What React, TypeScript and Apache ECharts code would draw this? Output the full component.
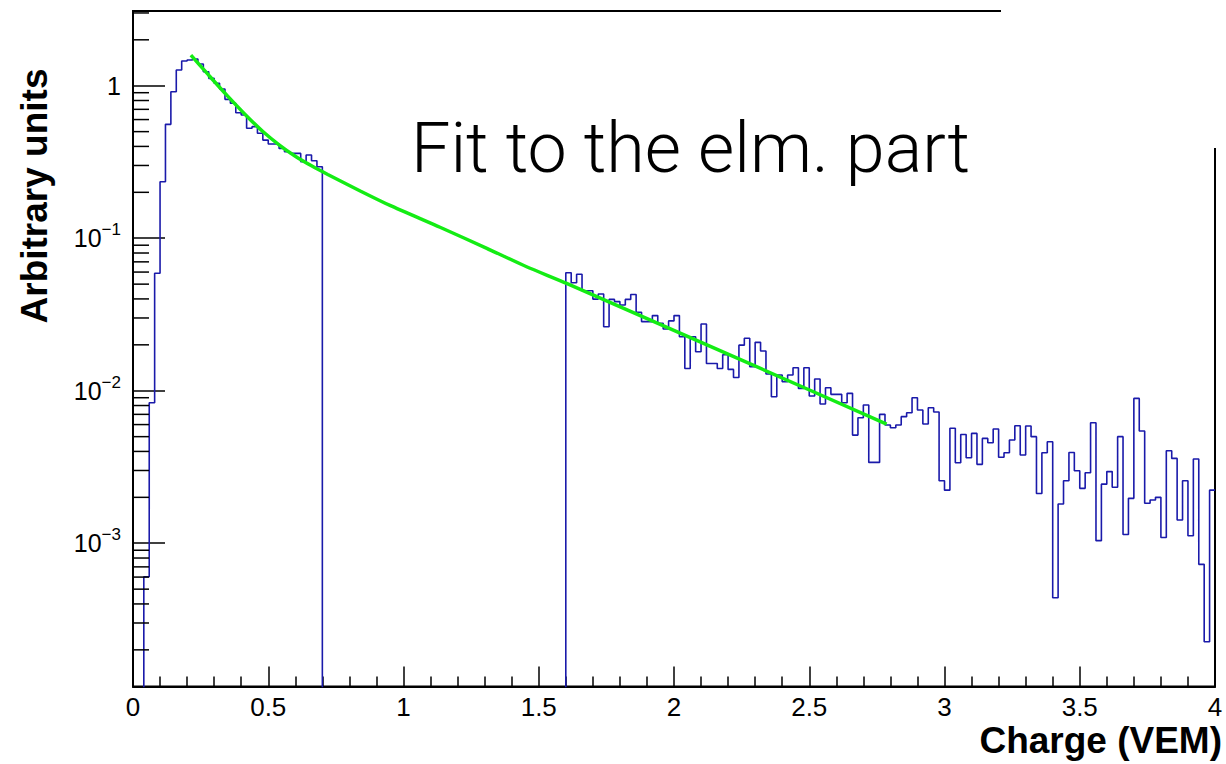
import React, { useEffect, useRef } from 'react';
import * as echarts from 'echarts';

// ---- Data ----
const BIN_WIDTH = 0.02; // VEM, 200 bins from 0 to 4
// histogram contents per bin (null = empty bin)
const histValues: (number | null)[] = [
  null, null, 0.000603, 0.00834, 0.0589, 0.2346, 0.558, 0.914, 1.267, 1.452,
  1.474, 1.496, 1.388, 1.235, 1.118, 1.037, 0.951, 0.814, 0.767, 0.665,
  0.643, 0.526, 0.539, 0.488, 0.440, 0.415, 0.415, 0.388, 0.369, 0.360,
  0.360, 0.317, 0.351, 0.322, 0.294, null, null, null, null, null,
  null, null, null, null, null, null, null, null, null, null,
  null, null, null, null, null, null, null, null, null, null,
  null, null, null, null, null, null, null, null, null, null,
  null, null, null, null, null, null, null, null, null, null,
  0.0594, 0.0511, 0.0580, 0.0453, 0.0453, 0.0399, 0.0431, 0.0263, 0.0397, 0.0384,
  0.0365, 0.0397, 0.0428, 0.0327, 0.0284, 0.0284, 0.0311, 0.0277, 0.0254, 0.0287,
  0.0311, 0.0226, 0.0140, 0.0226, 0.0180, 0.0274, 0.0151, 0.0151, 0.0140, 0.0172,
  0.0138, 0.0122, 0.0199, 0.0221, 0.01437, 0.02076, 0.01821, 0.01287, 0.00914, 0.01268,
  0.01146, 0.01268, 0.01416, 0.01036, 0.01416, 0.00923, 0.01194, 0.00818, 0.01047, 0.00947,
  0.00947, 0.00835, 0.00961, 0.00512, 0.00665, 0.00806, 0.00339, 0.00339, 0.00700, 0.00596,
  0.00572, 0.00596, 0.00676, 0.00718, 0.00900, 0.00747, 0.00605, 0.00774, 0.00725, 0.00257,
  0.00223, 0.00567, 0.00337, 0.00517, 0.00364, 0.00525, 0.00329, 0.00487, 0.00456, 0.00561,
  0.00366, 0.00392, 0.00475, 0.00590, 0.00379, 0.00587, 0.00500, 0.00212, 0.00392, 0.00463,
  0.000439, 0.00181, 0.00257, 0.00394, 0.00299, 0.00229, 0.00290, 0.00617, 0.00104, 0.00244,
  0.00295, 0.00233, 0.00500, 0.00114, 0.00197, 0.00891, 0.00544, 0.00183, 0.00192, 0.00200,
  0.00109, 0.00404, 0.00360, 0.00142, 0.00257, 0.00112, 0.00357, 0.000727, 0.000226, 0.00223,
];

// fit curve
const fitX = [0.214, 0.28, 0.35, 0.42, 0.48, 0.54, 0.60, 0.66, 0.72, 0.84, 0.95, 1.135, 1.308, 1.455, 1.603, 2.244, 2.786];
const fitY = [1.589, 1.172, 0.855, 0.634, 0.501, 0.410, 0.345, 0.2985, 0.262, 0.204, 0.164, 0.118, 0.0859, 0.0650, 0.0506, 0.01606, 0.00605];

const yMinorTicks = [
  2e-4, 3e-4, 4e-4, 5e-4, 6e-4, 7e-4, 8e-4, 9e-4,
  2e-3, 3e-3, 4e-3, 5e-3, 6e-3, 7e-3, 8e-3, 9e-3,
  2e-2, 3e-2, 4e-2, 5e-2, 6e-2, 7e-2, 8e-2, 9e-2,
  0.2, 0.3, 0.4, 0.5, 0.6, 0.7, 0.8, 0.9,
  2, 3,
];

const X_MIN = 0;
const X_MAX = 4;
const Y_MIN = 1.15e-4;
const Y_MAX = 3.09;
const FLOOR = 1e-7;

const TITLE_TEXT = 'Fit to the elm. part';
const X_NAME = 'Charge (VEM)';
const Y_NAME = 'Arbitrary units';

const FONT = "'Liberation Sans', Arial, Helvetica, sans-serif";

export default function App() {
  const ref = useRef<HTMLDivElement>(null);

  useEffect(() => {
    if (!ref.current) return;
    const chart = echarts.init(ref.current, null, { renderer: 'svg' });

    const histData: [number, number][] = histValues.map((v, i) => [
      +(i * BIN_WIDTH).toFixed(4),
      v == null ? FLOOR : v,
    ]);
    const last = histValues[histValues.length - 1];
    histData.push([+(histValues.length * BIN_WIDTH).toFixed(4), last == null ? FLOOR : last]);

    const fitData = fitX.map((x, i) => [x, fitY[i]]);

    const option: any = {
      animation: false,
      backgroundColor: '#fff',
      grid: {
        left: 133,
        right: 11,
        top: 11,
        bottom: 77.5,
        show: true,
        borderColor: '#000',
        borderWidth: 2,
        backgroundColor: 'transparent',
      },
      xAxis: {
        type: 'value',
        min: X_MIN,
        max: X_MAX,
        interval: 0.5,
        axisLine: { show: true, onZero: false, lineStyle: { color: '#000', width: 2 } },
        axisTick: { show: true, inside: true, length: 20, lineStyle: { color: '#000', width: 1.5 } },
        minorTick: { show: true, splitNumber: 5, length: 10, lineStyle: { color: '#000', width: 1.5 } },
        splitLine: { show: false },
        minorSplitLine: { show: false },
        axisLabel: {
          color: '#000',
          fontSize: 26,
          fontFamily: FONT,
          margin: 7,
          formatter: (v: number) => String(v),
        },
      },
      yAxis: {
        type: 'log',
        logBase: 10,
        min: Y_MIN,
        max: Y_MAX,
        axisLine: { show: true, lineStyle: { color: '#000', width: 2 } },
        axisTick: { show: true, inside: true, length: 32, lineStyle: { color: '#000', width: 1.5 } },
        splitLine: { show: false },
        axisLabel: {
          color: '#000',
          fontSize: 25,
          fontFamily: FONT,
          margin: 12,
          lineHeight: 34,
          showMinLabel: false,
          showMaxLabel: false,
          formatter: (v: number) => {
            const l = Math.log10(v);
            const r = Math.round(l);
            if (Math.abs(l - r) > 1e-6) return '';
            if (r === 0) return '1';
            return '10{sup|' + (r < 0 ? '\u2212' : '') + Math.abs(r) + '}';
          },
          rich: {
            sup: {
              fontSize: 17,
              fontFamily: FONT,
              color: '#000',
              verticalAlign: 'top',
              lineHeight: 17,
            },
          },
        },
      },
      series: [
        {
          type: 'line',
          data: histData,
          step: 'end',
          symbol: 'none',
          clip: true,
          lineStyle: { color: '#1a1aaa', width: 1.6 },
          z: 3,
        },
        {
          type: 'line',
          data: fitData,
          smooth: 0.2,
          symbol: 'none',
          clip: true,
          lineStyle: { color: '#14ec14', width: 3.5 },
          z: 4,
        },
        {
          type: 'custom',
          coordinateSystem: 'cartesian2d',
          silent: true,
          clip: false,
          z: 5,
          data: yMinorTicks.map((v) => [X_MIN, v]),
          renderItem: (params: any, api: any) => {
            const p = api.coord([X_MIN, api.value(1)]);
            return {
              type: 'line',
              shape: { x1: p[0], y1: p[1], x2: p[0] + 16, y2: p[1] },
              style: { stroke: '#000', lineWidth: 1.5 },
            };
          },
        },
      ],
      graphic: [
        {
          type: 'rect',
          z: 100,
          shape: { x: 1001, y: 0, width: 225, height: 148 },
          style: { fill: '#fff' },
        },
        {
          type: 'text',
          z: 101,
          x: 411,
          y: 148,
          style: {
            text: TITLE_TEXT,
            fontSize: 70,
            fontWeight: 300,
            fontFamily: "Roboto, 'Liberation Sans', Arial, sans-serif",
            fill: '#000',
            textAlign: 'left',
            textVerticalAlign: 'middle',
          },
        },
        {
          type: 'text',
          z: 101,
          x: 1222,
          y: 740,
          style: {
            text: X_NAME,
            fontSize: 37,
            fontWeight: 'bold',
            fontFamily: FONT,
            fill: '#000',
            textAlign: 'right',
            textVerticalAlign: 'middle',
          },
        },
        {
          type: 'text',
          z: 101,
          x: 34,
          y: 196,
          rotation: Math.PI / 2,
          style: {
            text: Y_NAME,
            fontSize: 37,
            fontWeight: 'bold',
            fontFamily: FONT,
            fill: '#000',
            textAlign: 'center',
            textVerticalAlign: 'middle',
          },
        },
      ],
    };

    chart.setOption(option);
    return () => {
      chart.dispose();
    };
  }, []);

  return (
    <div
      ref={ref}
      style={{ position: 'absolute', left: 0, top: 0, width: 1226, height: 764 }}
    />
  );
}
